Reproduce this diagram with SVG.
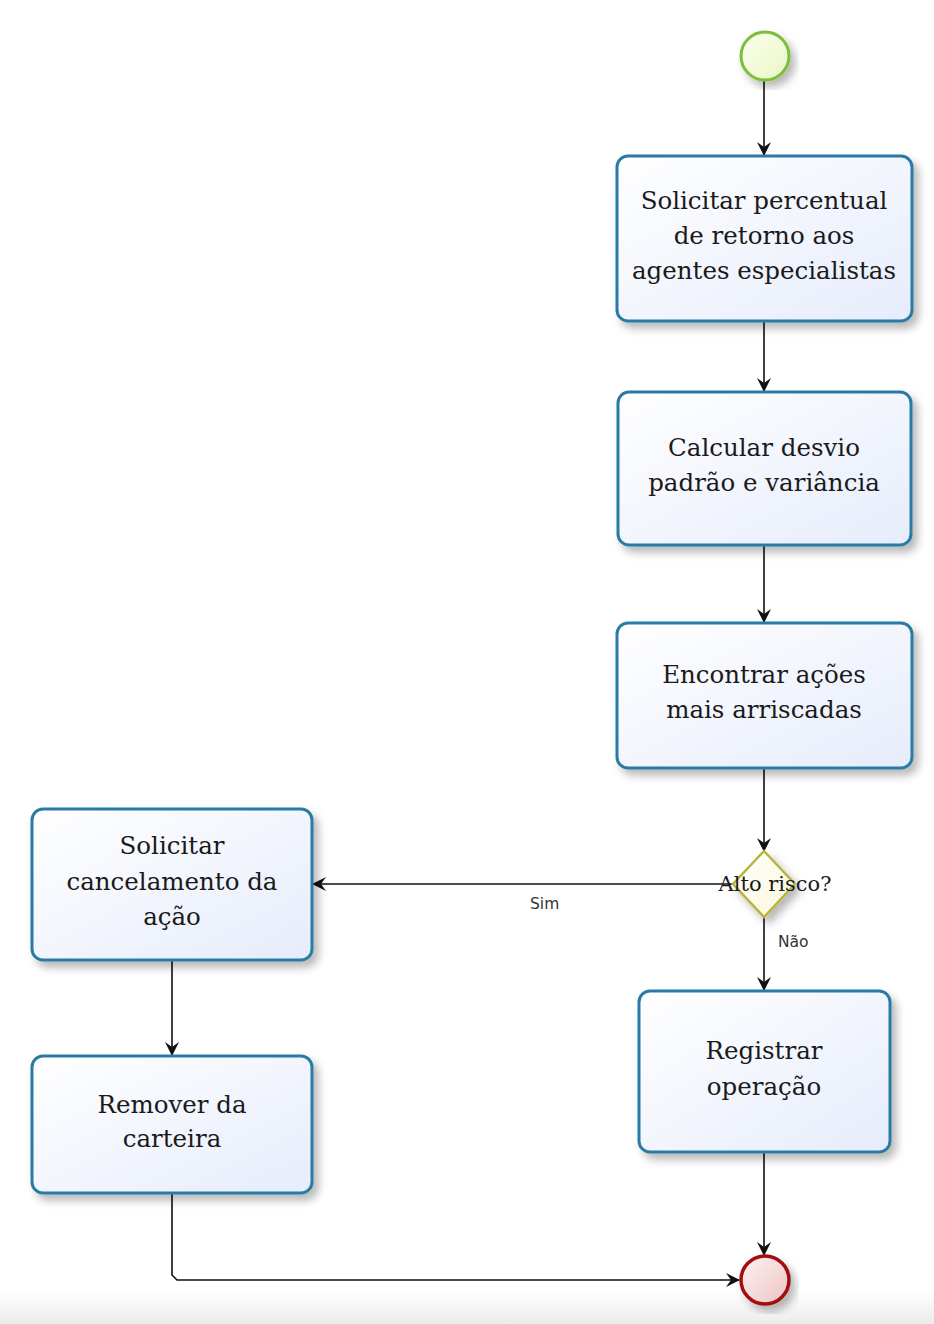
<svg xmlns="http://www.w3.org/2000/svg" width="934" height="1324" viewBox="0 0 934 1324">
<style>
.box{fill:url(#gBox);stroke:#2a7aa6;stroke-width:3;filter:url(#sh)}
.t{font-family:"DejaVu Serif","Liberation Serif",serif;font-size:24.5px;fill:#1a1a1a;text-anchor:middle}
.lbl{font-family:"DejaVu Sans","Liberation Sans",sans-serif;font-size:15.5px;fill:#333}
.c{fill:none;stroke:#111;stroke-width:1.6}
</style>
<defs>
<linearGradient id="gBox" x1="0" y1="0" x2="1" y2="1">
<stop offset="0" stop-color="#ffffff"/><stop offset="1" stop-color="#e6ecfb"/>
</linearGradient>
<linearGradient id="gStart" x1="0" y1="0" x2="1" y2="1">
<stop offset="0" stop-color="#fbfff0"/><stop offset="1" stop-color="#eaf6c4"/>
</linearGradient>
<linearGradient id="gEnd" x1="0" y1="0" x2="1" y2="1">
<stop offset="0" stop-color="#fdf1f1"/><stop offset="1" stop-color="#eec4c6"/>
</linearGradient>
<linearGradient id="gDia" x1="0" y1="0" x2="1" y2="1">
<stop offset="0" stop-color="#ffffff"/><stop offset="1" stop-color="#fbf7d8"/>
</linearGradient>
<linearGradient id="gBg" x1="0" y1="0" x2="0" y2="1">
<stop offset="0" stop-color="#ffffff"/><stop offset="1" stop-color="#ececec"/>
</linearGradient>
<filter id="sh" x="-10%" y="-10%" width="130%" height="130%">
<feDropShadow dx="5" dy="6" stdDeviation="4" flood-color="#000" flood-opacity="0.28"/>
</filter>
<marker id="arr" viewBox="0 0 14 14" refX="13" refY="7" markerWidth="14" markerHeight="14" markerUnits="userSpaceOnUse" orient="auto">
<path d="M0,0 L14,7 L0,14 L5,7 Z" fill="#111"/>
</marker>
</defs>
<rect x="0" y="0" width="934" height="1324" fill="#fff"/>
<rect x="0" y="1290" width="934" height="34" fill="url(#gBg)"/>

<g id="connectors">
<line class="c" x1="764" y1="81" x2="764" y2="155" marker-end="url(#arr)"/>
<line class="c" x1="764" y1="322" x2="764" y2="391" marker-end="url(#arr)"/>
<line class="c" x1="764" y1="546" x2="764" y2="622" marker-end="url(#arr)"/>
<line class="c" x1="764" y1="769" x2="764" y2="851" marker-end="url(#arr)"/>
<line class="c" x1="734" y1="884" x2="313" y2="884" marker-end="url(#arr)"/>
<line class="c" x1="764" y1="917" x2="764" y2="990" marker-end="url(#arr)"/>
<line class="c" x1="764" y1="1153" x2="764" y2="1255" marker-end="url(#arr)"/>
<line class="c" x1="172" y1="961" x2="172" y2="1055" marker-end="url(#arr)"/>
<path class="c" d="M172,1194 L172,1275 L177,1280 L739,1280" marker-end="url(#arr)"/>
<text class="lbl" x="530" y="909">Sim</text>
<text class="lbl" x="778" y="947">Não</text>
</g>

<g id="start">
<circle cx="765" cy="56" r="24" fill="url(#gStart)" stroke="#7cbf3c" stroke-width="3" filter="url(#sh)"/>
</g>

<g id="n1">
<rect class="box" x="617" y="156" width="295" height="165" rx="11"/>
<text class="t" x="764" y="209">Solicitar percentual</text>
<text class="t" x="764" y="244">de retorno aos</text>
<text class="t" x="764" y="279">agentes especialistas</text>
</g>

<g id="n2">
<rect class="box" x="618" y="392" width="293" height="153" rx="11"/>
<text class="t" x="764" y="456">Calcular desvio</text>
<text class="t" x="764" y="491">padrão e variância</text>
</g>

<g id="n3">
<rect class="box" x="617" y="623" width="295" height="145" rx="11"/>
<text class="t" x="764" y="683">Encontrar ações</text>
<text class="t" x="764" y="718">mais arriscadas</text>
</g>

<g id="gateway">
<path d="M764,851 L795,884 L764,917 L733,884 Z" fill="url(#gDia)" stroke="#b5b53a" stroke-width="2.5" filter="url(#sh)"/>
<text x="775" y="891" font-family="DejaVu Serif,Liberation Serif,serif" font-size="21" fill="#1a1a1a" text-anchor="middle">Alto risco?</text>
</g>

<g id="n4">
<rect class="box" x="639" y="991" width="251" height="161" rx="11"/>
<text class="t" x="764" y="1059">Registrar</text>
<text class="t" x="764" y="1095">operação</text>
</g>

<g id="n5">
<rect class="box" x="32" y="809" width="280" height="151" rx="11"/>
<text class="t" x="172" y="854">Solicitar</text>
<text class="t" x="172" y="890">cancelamento da</text>
<text class="t" x="172" y="925">ação</text>
</g>

<g id="n6">
<rect class="box" x="32" y="1056" width="280" height="137" rx="11"/>
<text class="t" x="172" y="1113">Remover da</text>
<text class="t" x="172" y="1147">carteira</text>
</g>

<g id="end">
<circle cx="765" cy="1280" r="24" fill="url(#gEnd)" stroke="#a30d10" stroke-width="3.5" filter="url(#sh)"/>
</g>
</svg>
